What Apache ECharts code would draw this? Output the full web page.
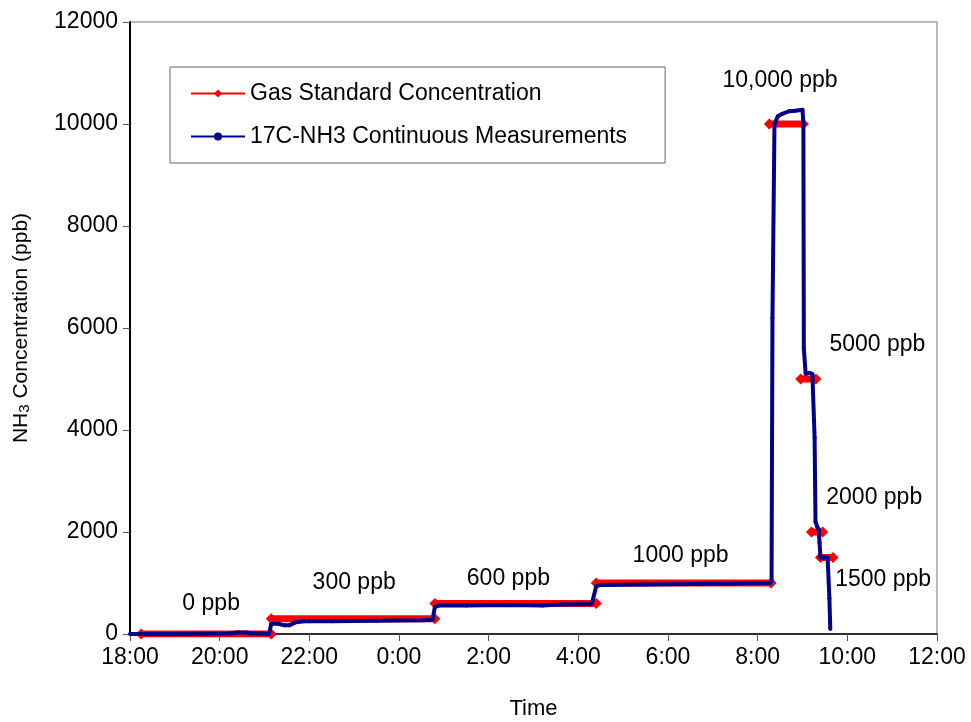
<!DOCTYPE html>
<html>
<head>
<meta charset="utf-8">
<script src="https://cdn.jsdelivr.net/npm/echarts@6/dist/echarts.min.js"></script>
<style>html,body{margin:0;background:#fff}#main{width:971px;height:722px}</style>
</head>
<body>
<div id="main"></div>
<script>
// hours after 18:00
var gasX = [0.25, 3.15, null, 3.15, 6.8, null, 6.8, 10.4, null, 10.4, 14.3, null, 14.26, 15.02, null, 14.96, 15.3, null, 15.2, 15.45, null, 15.4, 15.68];
var gasY = [0, 0, null, 300, 300, null, 600, 600, null, 1000, 1000, null, 10000, 10000, null, 5000, 5000, null, 2000, 2000, null, 1500, 1500];

var measX = [0, 1.0, 2.2, 2.4, 2.6, 2.7, 2.9, 3.1, 3.15, 3.3, 3.45, 3.55, 3.7, 3.9, 4.0, 4.5, 5.5, 6.5, 6.75, 6.8, 6.9, 7.5, 8.5, 9.2, 9.6, 10.3, 10.4, 10.5, 11.5, 12.5, 13.5, 14.28, 14.31, 14.33, 14.375, 14.45, 14.55, 14.7, 14.84, 15.0, 15.02, 15.03, 15.07, 15.15, 15.22, 15.27, 15.29, 15.33, 15.36, 15.38, 15.4, 15.48, 15.56, 15.6, 15.62];
var measY = [0, 0, 10, 30, 30, 10, 10, 0, 200, 200, 170, 170, 230, 250, 250, 250, 260, 270, 280, 530, 560, 560, 570, 560, 580, 590, 940, 960, 970, 980, 990, 1000, 1050, 6200, 10000, 10150, 10200, 10250, 10260, 10280, 10000, 5600, 5100, 5120, 5100, 3850, 2200, 2100, 2050, 1800, 1500, 1500, 1500, 700, 100];

var noteText = ['10,000 ppb', '5000 ppb', '2000 ppb', '1500 ppb', '1000 ppb', '600 ppb', '300 ppb', '0 ppb'];
var noteX = [14.5, 16.67, 16.6, 16.8, 12.28, 8.44, 5.0, 1.81];
var noteY = [10850, 5680, 2680, 1060, 1530, 1080, 1000, 590];

function pairs(xs, ys) {
    return xs.map(function (x, i) { return x === null ? [null, null] : [x, ys[i]]; });
}
var notes = noteText.map(function (t, i) { return {value: [noteX[i], noteY[i]], name: t}; });

var chart = echarts.init(document.getElementById('main'));
var font = 'Liberation Sans, Arial, sans-serif';
chart.setOption({
    animation: false,
    backgroundColor: '#fff',
    textStyle: {fontFamily: font},
    grid: {left: 130, right: 34, top: 22, bottom: 88, show: true, borderColor: '#777', borderWidth: 1, outerBoundsMode: 'none'},
    legend: {
        left: 170, top: 67, orient: 'vertical', itemGap: 20, padding: [15, 38, 15, 20],
        borderColor: '#666', borderWidth: 1, itemWidth: 54, itemHeight: 10,
        textStyle: {fontSize: 23, color: '#000', fontFamily: font},
        data: ['Gas Standard Concentration', '17C-NH3 Continuous Measurements']
    },
    xAxis: {
        type: 'value', min: 0, max: 18, interval: 2,
        name: 'Time', nameLocation: 'middle', nameGap: 64,
        nameTextStyle: {fontSize: 22, color: '#000'},
        axisLine: {lineStyle: {color: '#000', width: 1.5}},
        axisTick: {length: 7, lineStyle: {color: '#555'}},
        axisLabel: {fontSize: 23, color: '#000', margin: 12,
            formatter: function (v) { return ((v + 18) % 24) + ':00'; }},
        splitLine: {show: false}
    },
    yAxis: {
        type: 'value', min: 0, max: 12000, interval: 2000,
        name: '{a|NH}{s|3}{a| Concentration (ppb)}', nameLocation: 'middle', nameGap: 98,
        nameTextStyle: {rich: {a: {fontSize: 21, color: '#000'}, s: {fontSize: 15, color: '#000', verticalAlign: 'bottom', padding: [6, 0, 0, 0]}}},
        axisLine: {show: true, lineStyle: {color: '#000', width: 2}},
        axisTick: {show: true, length: 7, lineStyle: {color: '#555'}},
        axisLabel: {fontSize: 23, color: '#000', margin: 12, formatter: function (v) { return String(v); }},
        splitLine: {show: false}
    },
    series: [{
        name: 'Gas Standard Concentration', type: 'line', data: pairs(gasX, gasY),
        connectNulls: false, symbol: 'diamond', symbolSize: 11,
        lineStyle: {color: '#ff0000', width: 7}, itemStyle: {color: '#ff0000'}, z: 2
    }, {
        name: '17C-NH3 Continuous Measurements', type: 'line', data: pairs(measX, measY),
        symbol: 'circle', symbolSize: 4,
        lineStyle: {color: '#00008b', width: 4}, itemStyle: {color: '#00008b'}, z: 3
    }, {
        type: 'scatter', data: notes, symbolSize: 1, silent: true,
        itemStyle: {opacity: 0},
        label: {show: true, position: 'inside', formatter: '{b}', fontSize: 23, color: '#000', opacity: 1}
    }]
});
</script>
</body>
</html>
